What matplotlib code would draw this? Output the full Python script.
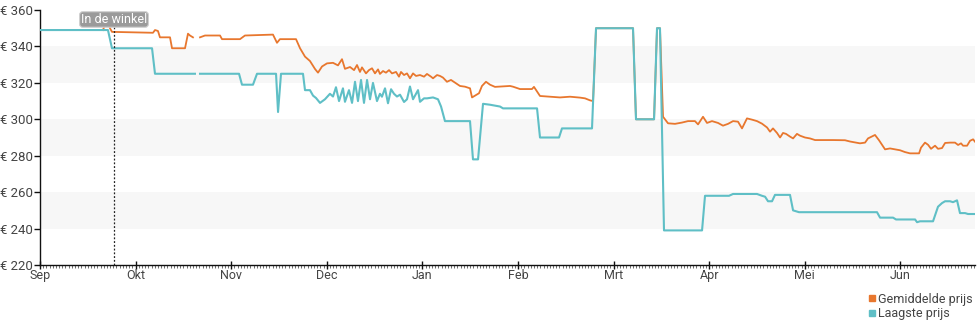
import numpy as np
import matplotlib
matplotlib.use("Agg")
import matplotlib.pyplot as plt
from matplotlib.lines import Line2D

plt.rcParams['font.family'] = ['Roboto', 'DejaVu Sans']

# month labels, x positions are in months counted from 1 Sep
months = ['Sep', 'Okt', 'Nov', 'Dec', 'Jan', 'Feb', 'Mrt', 'Apr', 'Mei', 'Jun']
in_store = 0.774

# Laagste prijs
low_x = [0, 0.711, 0.753, 1.172, 1.203, 1.621, np.nan, 1.674, 2.082, 2.113, 2.228, 2.270, 2.469, 2.490,
         2.521, 2.751, 2.772, 2.824, 2.856, 2.887, 2.929, 2.981, 3.033, 3.065, 3.096, 3.128, 3.169,
         3.190, 3.232, 3.264, 3.295, 3.326, 3.358, 3.389, 3.421, 3.452, 3.483, 3.525, 3.556, 3.577,
         3.609, 3.640, 3.672, 3.703, 3.734, 3.766, 3.808, 3.839, 3.870, 3.902, 3.954, 3.975, 4.017,
         4.048, 4.111, 4.163, 4.195, 4.236, 4.498, 4.529, 4.582, 4.634, 4.707, 4.812, 4.843, 5.199,
         5.230, 5.429, 5.460, 5.774, 5.816, 6.203, 6.234, 6.423, 6.454, 6.485, 6.527, 6.925, 6.956,
         7.207, 7.249, 7.5, 7.552, 7.584, 7.615, 7.657, 7.688, 7.845, 7.877, 7.939, 8.755, 8.787,
         8.923, 8.954, 9.153, 9.174, 9.205, 9.341, 9.393, 9.435, 9.467, 9.519, 9.550, 9.592, 9.623,
         9.676, 9.707, 9.780]
low_y = [349, 349, 339, 339, 325, 325, np.nan, 325, 325, 319, 319, 325, 325, 304,
         325, 325, 316, 316, 313, 311.7, 309, 311, 314, 312.5, 317.6, 310, 317,
         309.6, 316, 309, 320.6, 310, 321.6, 309, 321.6, 311, 320, 310, 314, 312.4,
         317, 308.8, 316.5, 314, 312.5, 313.5, 309.5, 311, 318, 311, 316, 309.6, 311.5,
         311.5, 312, 311, 307, 299, 299, 278, 278, 308.5, 308, 307, 306, 306,
         290, 290, 295, 295, 350, 350, 300, 300, 350, 350, 239, 239, 258,
         258, 259, 259, 258, 257.5, 255, 255, 258.5, 258.5, 250, 249, 249, 246,
         246, 245, 245, 243.5, 244, 244, 252, 254, 255, 255, 254.5, 255.5, 248.5,
         248.5, 248, 248]

# Gemiddelde prijs
avg_x = [0.659, 0.680, 0.711, 0.732, 0.753, 1.182, 1.203, 1.234, 1.255, 1.360, 1.381, 1.517, 1.548,
         1.569, 1.600, np.nan, 1.674, 1.726, 1.883, 1.904, 2.092, 2.144, 2.437, 2.479, 2.510, 2.678,
         2.720, 2.772, 2.824, 2.877, 2.908, 2.950, 3.002, 3.065, 3.117, 3.159, 3.190, 3.243, 3.285,
         3.316, 3.347, 3.368, 3.410, 3.441, 3.473, 3.504, 3.536, 3.556, 3.588, 3.619, 3.651, 3.682,
         3.724, 3.755, 3.776, 3.808, 3.839, 3.870, 3.902, 3.933, 3.975, 4.017, 4.048, 4.090, 4.111,
         4.153, 4.184, 4.215, 4.257, 4.299, 4.341, 4.393, 4.446, 4.498, 4.519, 4.561, 4.592, 4.623,
         4.665, 4.707, 4.759, 4.916, 4.948, 5.021, 5.146, 5.167, 5.230, 5.439, 5.544, 5.649, 5.701,
         5.753, 5.785, 5.816, 6.203, 6.234, 6.423, 6.454, 6.485, 6.517, 6.569, 6.642, 6.715, 6.778,
         6.851, 6.883, 6.935, 6.977,
         7.029, 7.092, 7.144, 7.197, 7.249, 7.301, 7.343, 7.395, 7.448, 7.5, 7.552, 7.605, 7.636,
         7.667, 7.709, 7.741, 7.772, 7.803, 7.845, 7.877, 7.918, 7.950, 8.002, 8.054, 8.107, 8.295,
         8.420, 8.473, 8.577, 8.630, 8.661, 8.734, 8.776, 8.839, 8.891, 8.996, 9.048, 9.100, 9.195,
         9.215, 9.257, 9.289, 9.320, 9.362, 9.393, 9.435, 9.467, 9.519, 9.571, 9.603, 9.634, 9.655,
         9.697, 9.728, 9.760, 9.780]
avg_y = [349, 352, 354.5, 350, 348, 347.5, 349, 348.5, 345, 345, 339, 339, 347,
         346, 345, np.nan, 345, 346, 346, 344, 344, 346, 346.5, 342, 344, 344,
         339, 334.4, 332, 327.6, 325.6, 329, 330.7, 331, 329.6, 333, 327.7, 328.7, 327,
         329.8, 326, 328.5, 325.2, 327, 328, 325.2, 327.4, 324.9, 326.5, 325.6, 327, 325.2,
         326, 323.4, 326, 324.3, 325.2, 322.5, 325.2, 323.8, 324.3, 323.4, 324.9, 323.4, 322.5,
         324.3, 323.8, 322.9, 320.6, 321.6, 320.1, 318.3, 317.9, 317, 312, 313.3, 314.3, 318.3,
         320.6, 319, 317.8, 318.3, 317.9, 316.6, 316.6, 317.8, 312.8, 312, 312.4, 311.9, 311.5,
         310.4, 310, 350, 350, 300, 300, 350, 350, 301.4, 297.8, 297.5, 298.2, 299,
         299, 297.2, 301.4, 298,
         299, 298, 296.5, 297.5, 299, 298.7, 295, 300.5, 299.8, 299, 297.6, 295.5, 293.2,
         295, 292.5, 290, 292.5, 292, 290.5, 289.5, 292, 291, 290, 289.5, 288.6, 288.6,
         288.5, 287.8, 286.8, 287.2, 289.5, 291.4, 288.5, 283.5, 284, 283, 282, 281.3, 281.3,
         284.4, 287.2, 286, 283.8, 285.5, 283.8, 284.2, 287, 287.2, 287.2, 285.9, 286.8, 285.5,
         285.5, 288.2, 289, 287.7]

orange = '#e8772e'
teal = '#5fbfc6'

fig = plt.figure(figsize=(9.8, 3.25), dpi=100)
ax = fig.add_axes([0.0408, 0.1846, 0.9541, 0.7846])

for lo in (240, 280, 320):
    ax.axhspan(lo, lo + 20, color='#f7f7f7', lw=0, zorder=0)

ax.plot(low_x, low_y, color=teal, lw=1.5, zorder=3)
ax.plot(avg_x, avg_y, color=orange, lw=1.3, zorder=2)

ax.axvline(in_store, ymax=0.97, color='#222222', lw=0.9, ls=(0, (1.5, 1.5)), zorder=4)
ax.text(in_store, 354.8, 'In de winkel', ha='center', va='center', fontsize=9, color='white',
        bbox=dict(boxstyle='round,pad=0.1,rounding_size=0.25', fc='#9a9a9a', ec='#d0d0d0', lw=0.8),
        zorder=5)

ax.set_xlim(0, 9.78)
ax.set_ylim(220, 360)
ax.set_xticks(range(len(months)))
ax.set_xticklabels(months)
ax.set_xticks(np.arange(0, 9.78, 1 / 30), minor=True)
yt = list(range(220, 361, 20))
ax.set_yticks(yt)
ax.set_yticklabels(['€ %d' % v for v in yt])

for s in ('top', 'right'):
    ax.spines[s].set_visible(False)
for s in ('left', 'bottom'):
    ax.spines[s].set_color('#111111')
    ax.spines[s].set_linewidth(1.0)

ax.tick_params(axis='x', which='major', direction='inout', length=6, width=1, colors='#111111',
               labelcolor='#444444', labelsize=9, pad=0)
ax.tick_params(axis='x', which='minor', direction='out', length=2, width=0.6, colors='#555555')
ax.tick_params(axis='y', direction='out', length=4, width=1, colors='#111111',
               labelcolor='#444444', labelsize=9.5, pad=1)

handles = [Line2D([], [], marker='s', ls='', color=orange, markersize=5),
           Line2D([], [], marker='s', ls='', color=teal, markersize=5)]
fig.legend(handles, ['Gemiddelde prijs', 'Laagste prijs'], loc='lower right',
           bbox_to_anchor=(1.0, -0.008), frameon=False, fontsize=9, labelcolor='#444444',
           handlelength=0.6, handletextpad=0.2, labelspacing=0.1, borderpad=0.1)

fig.savefig('out.png', dpi=100)
